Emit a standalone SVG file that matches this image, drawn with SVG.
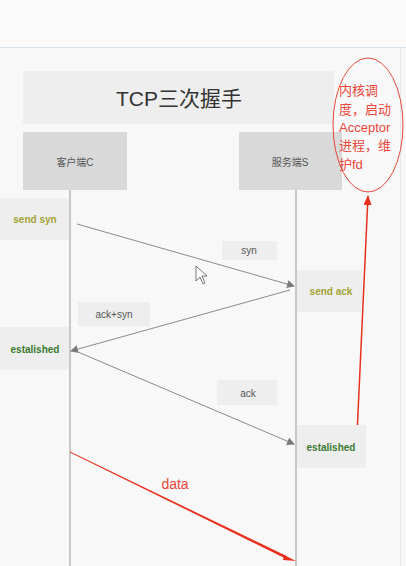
<svg xmlns="http://www.w3.org/2000/svg" width="406" height="566" viewBox="0 0 406 566">
<style>
.box{fill:#eeeeee}
.hdr{fill:#d9d9d9}
.lbl{font-family:"Liberation Sans","Noto Sans CJK SC",sans-serif;font-size:10px;fill:#555;text-anchor:middle}
.st{font-family:"Liberation Sans",sans-serif;font-size:10px;font-weight:bold;text-anchor:middle}
.olive{fill:#a3a336}
.green{fill:#3a7a32}
.life{stroke:#a8a8a8;stroke-width:1.2;fill:none}
.msg{stroke:#8a8a8a;stroke-width:1;fill:none}
.red{font-family:"Liberation Sans","Noto Sans CJK SC",sans-serif;font-size:13px;fill:#e8473a}
</style>
<defs>
<marker id="ga" markerWidth="8" markerHeight="8" refX="7" refY="4" orient="auto" markerUnits="userSpaceOnUse">
<path d="M0,0 L8,4 L0,8 Z" fill="#7a7a7a"/>
</marker>
<marker id="ra" markerWidth="10" markerHeight="10" refX="9" refY="5" orient="auto" markerUnits="userSpaceOnUse">
<path d="M0,1 L10,5 L0,9 Z" fill="#e8301e"/>
</marker>
</defs>
<rect width="406" height="566" fill="#f8f8f8"/>
<rect width="406" height="47" fill="#fbfbfb"/>
<line x1="0" y1="47.5" x2="406" y2="47.5" stroke="#d8e2ec" stroke-width="1"/>
<line x1="400.5" y1="48" x2="400.5" y2="566" stroke="#e4e8ec" stroke-width="1"/>

<g id="title"><rect class="box" x="23" y="71" width="311" height="53"/>
<text x="179" y="106" font-family="Liberation Sans,'Noto Sans CJK SC',sans-serif" font-size="21" fill="#333" text-anchor="middle">TCP三次握手</text></g>

<g id="client"><rect class="hdr" x="23" y="132" width="104" height="58"/>
<text class="lbl" x="75" y="166">客户端C</text></g>
<g id="server"><rect class="hdr" x="239" y="132" width="103" height="58"/>
<text class="lbl" x="290" y="166">服务端S</text></g>

<g id="connectors">
<line class="life" x1="70" y1="190" x2="70" y2="566"/>
<line class="life" x1="296" y1="190" x2="296" y2="566"/>
<line class="msg" x1="77" y1="224" x2="294" y2="286" marker-end="url(#ga)"/>
<line class="msg" x1="290" y1="290" x2="71" y2="351" marker-end="url(#ga)"/>
<line class="msg" x1="78" y1="352" x2="294" y2="444" marker-end="url(#ga)"/>
<polygon points="70,451.6 287,556.2 286,558.8 70,452.4" fill="#e8301e"/>
<path d="M284,555 L296,561 L283,560 Z" fill="#e8301e"/>
<line x1="357" y1="435" x2="368" y2="196" stroke="#e8301e" stroke-width="1.5" marker-end="url(#ra)"/>
</g>

<g id="send-syn"><rect class="box" x="0" y="198" width="69" height="42"/>
<text class="st olive" x="35" y="223">send syn</text></g>
<g id="syn-label"><rect class="box" x="222" y="241" width="55" height="19"/>
<text class="lbl" x="249" y="254">syn</text></g>
<g id="send-ack"><rect class="box" x="297" y="270" width="65" height="42"/>
<text class="st olive" x="331" y="295">send ack</text></g>
<g id="acksyn-label"><rect class="box" x="78" y="302" width="72" height="24"/>
<text class="lbl" x="114" y="318">ack+syn</text></g>
<g id="est-client"><rect class="box" x="0" y="327" width="69" height="43"/>
<text class="st green" x="35" y="353">estalished</text></g>
<g id="ack-label"><rect class="box" x="217" y="380" width="60" height="25"/>
<text class="lbl" x="248" y="397">ack</text></g>
<g id="est-server"><rect class="box" x="297" y="425" width="69" height="43"/>
<text class="st green" x="331" y="451">estalished</text></g>

<g id="data-label"><text x="175" y="489" font-family="Liberation Sans,sans-serif" font-size="14" fill="#e8473a" text-anchor="middle">data</text></g>

<g id="note">
<ellipse cx="368" cy="125" rx="35" ry="67" fill="none" stroke="#e8473a" stroke-width="1"/>
<text class="red" x="339" y="95">内核调</text>
<text class="red" x="339" y="114">度，启动</text>
<text class="red" x="339" y="132">Acceptor</text>
<text class="red" x="339" y="150">进程，维</text>
<text class="red" x="339" y="169">护fd</text>
</g>

<g id="cursor"><path d="M196,266 L196,281 L200,277 L203,284 L205,283 L202,276 L207,276 Z" fill="#fff" stroke="#555" stroke-width="0.8"/></g>
</svg>
